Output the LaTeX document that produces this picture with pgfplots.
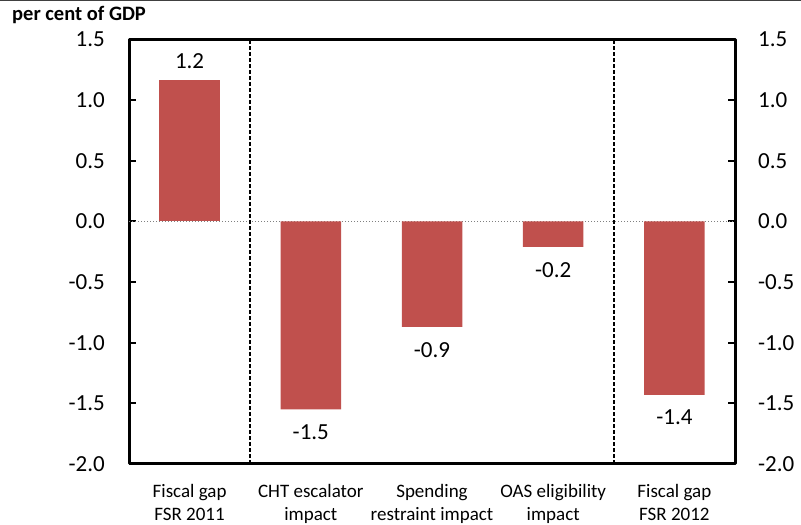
\documentclass[border=0pt]{standalone}
\usepackage{pgfplots}
\pgfplotsset{compat=1.18}
\usepackage{fontspec}
\setmainfont{Carlito}
\definecolor{barred}{HTML}{C0504D}
\begin{document}
\begin{tikzpicture}[x=1pt,y=1pt]
\useasboundingbox (0,0) rectangle (801,525);
\draw[line width=1.5pt, color=black!75] (0,524.3) -- (801,524.3);
\node[anchor=base west, inner sep=0pt, font=\fontsize{20.5}{24}\selectfont\bfseries] at (12,504) {per cent of GDP};
\begin{axis}[
  at={(129pt,61pt)}, anchor=south west,
  scale only axis, width=606pt, height=424.5pt,
  ymin=-2, ymax=1.5, xmin=-0.5, xmax=4.5,
  ytick={-2,-1.5,-1,-0.5,0,0.5,1,1.5},
  yticklabels={-2.0,-1.5,-1.0,-0.5,0.0,0.5,1.0,1.5},
  ytick pos=both, yticklabel pos=left,
  tick align=inside,
  major tick length=7pt,
  every tick/.style={black, line width=2pt},
  axis line style={line width=3pt, line join=round},
  yticklabel style={font=\fontsize{23}{27}\selectfont, inner sep=0pt, anchor=east, xshift=-24pt},
  xtick={0,1,2,3,4},
  xticklabels={{\strut Fiscal gap\\FSR 2011},{\strut CHT escalator\\impact},{\strut Spending\\restraint impact},{\strut OAS eligibility\\impact},{\strut Fiscal gap\\FSR 2012}},
  xticklabel style={font=\fontsize{19}{23}\selectfont, align=center, inner sep=0pt, anchor=north, yshift=-10pt},
  x tick style={draw=none},
  ybar, bar width=60.5pt, bar shift=0pt,
  point meta=explicit symbolic,
  clip=false,
]
\draw[gray, dotted, line width=1pt] (axis cs:-0.5,0) -- (axis cs:4.5,0);
\draw[black, dash pattern=on 4pt off 2pt, line width=1.5pt] (axis cs:0.5,-2) -- (axis cs:0.5,1.5);
\draw[black, dash pattern=on 4pt off 2pt, line width=1.5pt] (axis cs:3.5,-2) -- (axis cs:3.5,1.5);
\addplot[fill=barred, draw=none,
  nodes near coords,
  nodes near coords style={font=\fontsize{23}{27}\selectfont, inner sep=0pt, anchor=south, yshift=11pt, black}]
  coordinates {(0,1.17) [1.2]};
\addplot[fill=barred, draw=none,
  nodes near coords,
  nodes near coords style={font=\fontsize{23}{27}\selectfont, inner sep=0pt, anchor=north, yshift=-15pt, black}]
  coordinates {(1,-1.55) [-1.5] (2,-0.87) [-0.9] (3,-0.21) [-0.2] (4,-1.43) [-1.4]};
\end{axis}
\begin{axis}[
  at={(129pt,61pt)}, anchor=south west,
  scale only axis, width=606pt, height=424.5pt,
  ymin=-2, ymax=1.5, xmin=-0.5, xmax=4.5,
  axis x line=none, axis y line*=right,
  y axis line style={draw=none},
  ytick={-2,-1.5,-1,-0.5,0,0.5,1,1.5},
  yticklabels={-2.0,-1.5,-1.0,-0.5,0.0,0.5,1.0,1.5},
  ytick style={draw=none},
  yticklabel style={font=\fontsize{23}{27}\selectfont, inner sep=0pt, anchor=west, xshift=23pt},
]
\end{axis}
\end{tikzpicture}
\end{document}
